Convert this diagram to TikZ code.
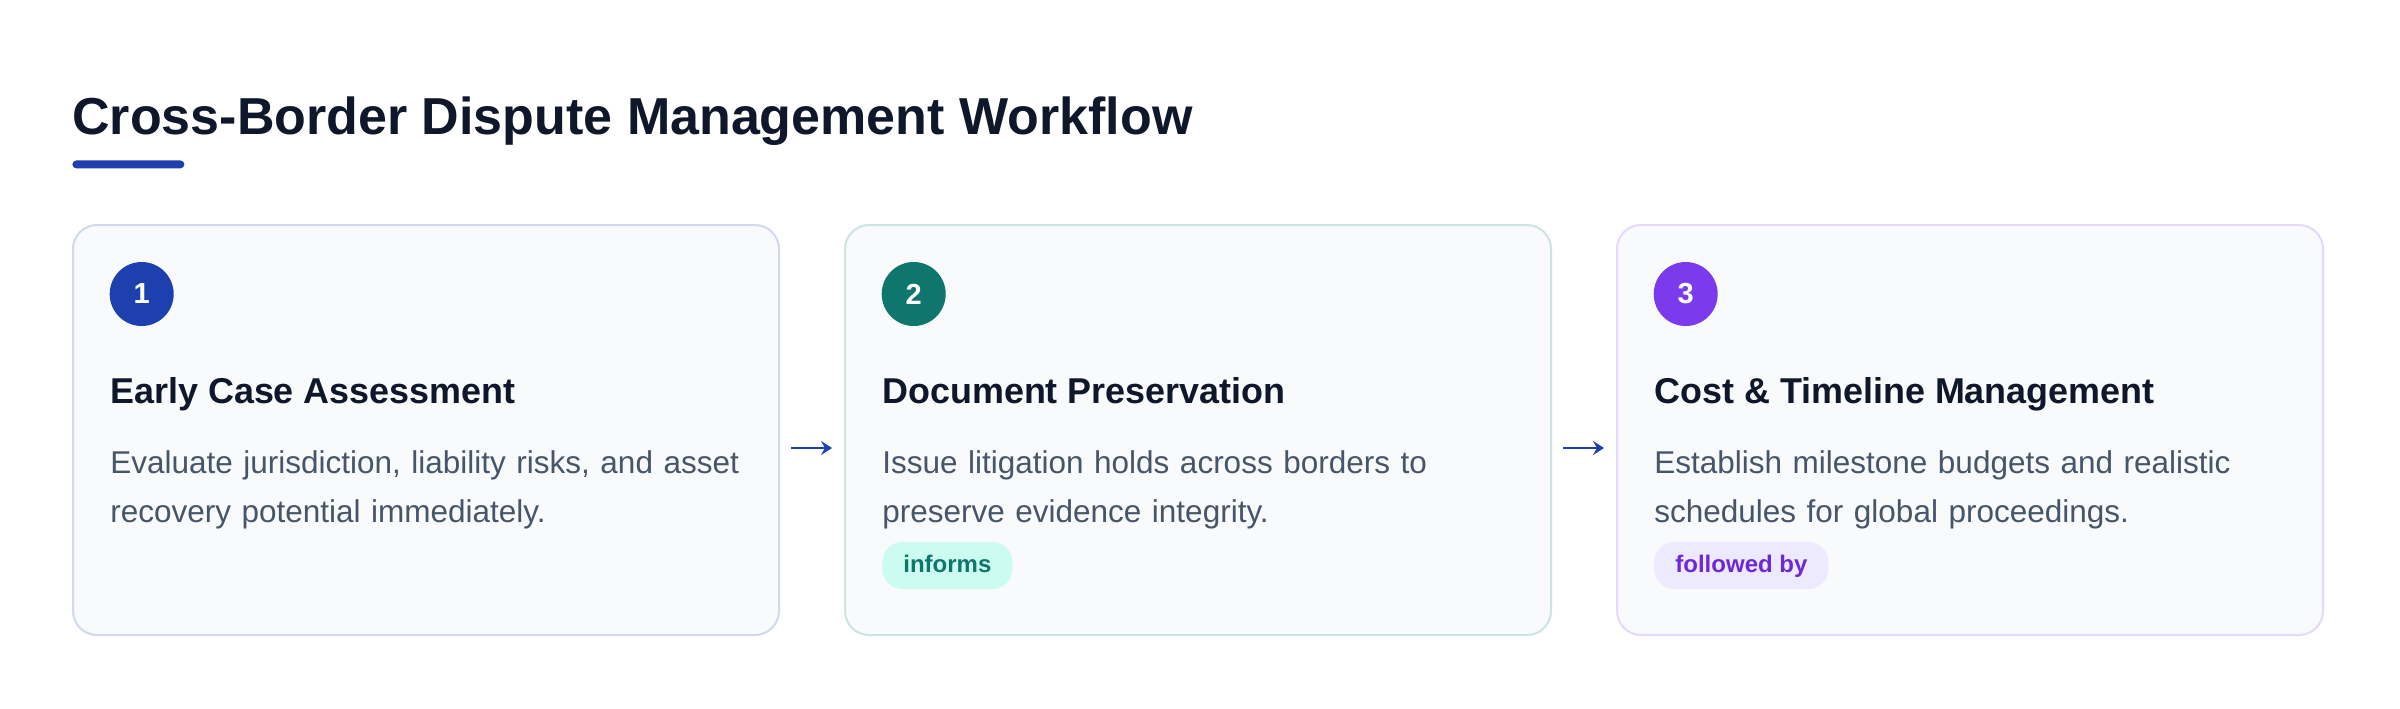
\documentclass[tikz,border=0pt]{standalone}
\usepackage{fontspec}
\setmainfont{Liberation Sans}
\usetikzlibrary{arrows.meta,calc}
\definecolor{ink}{HTML}{0F172A}
\definecolor{bodyc}{HTML}{475569}
\definecolor{cardfill}{HTML}{F8FAFC}
\definecolor{cblue}{HTML}{1E40AF}
\definecolor{cteal}{HTML}{0F766E}
\definecolor{cviolet}{HTML}{7C3AED}
\definecolor{tealbg}{HTML}{CCFBF1}
\definecolor{violetbg}{HTML}{EDE9FE}
\definecolor{violettx}{HTML}{6D28D9}
\begin{document}
\begin{tikzpicture}[x=0.5pt,y=-0.5pt,
  card/.style={draw=#1!20!white, line width=1pt, fill=cardfill, rounded corners=12pt,
    minimum width=353pt, minimum height=205pt, inner sep=0pt, outer sep=0pt},
  numdot/.style={circle, fill=#1, text=white, minimum size=32pt, inner sep=0pt,
    font=\fontsize{14.5}{17}\selectfont\bfseries},
  headtx/.style={anchor=base west, inner sep=0pt, text=ink,
    font=\fontsize{17.95}{21}\selectfont\bfseries},
  bodytx/.style={anchor=base west, inner sep=0pt, text=bodyc, text width=330pt, align=left,
    font=\fontsize{15.75}{24.25}\selectfont},
  badge/.style={anchor=west, fill=#1, rounded corners=10pt, inner xsep=10.5pt, inner ysep=0pt,
    minimum height=23.5pt, text height=8.5pt, text depth=2pt,
    font=\fontsize{12}{14}\selectfont\bfseries},
  arr/.style={draw=cblue, line width=1.25pt, -{Stealth[length=5.5pt,width=7pt,inset=2pt]},
    shorten <=6pt, shorten >=6.5pt}
]
\useasboundingbox (0,0) rectangle (2400,708);
\fill[white] (0,0) rectangle (2400,708);

% title
\node[anchor=base west, inner sep=0pt, text=ink, font=\fontsize{26}{30}\selectfont\bfseries]
  (title) at (72,134) {Cross-Border Dispute Management Workflow};
\node[fill=cblue, rounded corners=2pt, minimum width=56pt, minimum height=4pt, inner sep=0pt,
  anchor=north west] (bar) at (72,160) {};

% cards
\node[card=cblue] (c1) at (426,430) {};
\node[card=cteal] (c2) at (1198,430) {};
\node[card=cviolet] (c3) at (1970,430) {};

% card 1
\node[numdot=cblue] (n1) at (141.7,294) {1};
\node[headtx] (h1) at (110,403.5) {Early Case Assessment};
\node[bodytx] (b1) at (110,473.5) {Evaluate jurisdiction, liability risks, and asset\\recovery potential immediately.};

% card 2
\node[numdot=cteal] (n2) at (913.7,294) {2};
\node[headtx] (h2) at (882,403.5) {Document Preservation};
\node[bodytx] (b2) at (882,473.5) {Issue litigation holds across borders to\\preserve evidence integrity.};
\node[badge=tealbg, text=cteal] (t2) at (882,565.5) {informs};

% card 3
\node[numdot=cviolet] (n3) at (1685.7,294) {3};
\node[headtx] (h3) at (1654,403.5) {Cost \& Timeline Management};
\node[bodytx] (b3) at (1654,473.5) {Establish milestone budgets and realistic\\schedules for global proceedings.};
\node[badge=violetbg, text=violettx] (t3) at (1654,565.5) {followed by};

% connectors
\draw[arr] ([yshift=-9pt]c1.east) -- ([yshift=-9pt]c2.west);
\draw[arr] ([yshift=-9pt]c2.east) -- ([yshift=-9pt]c3.west);
\end{tikzpicture}
\end{document}
